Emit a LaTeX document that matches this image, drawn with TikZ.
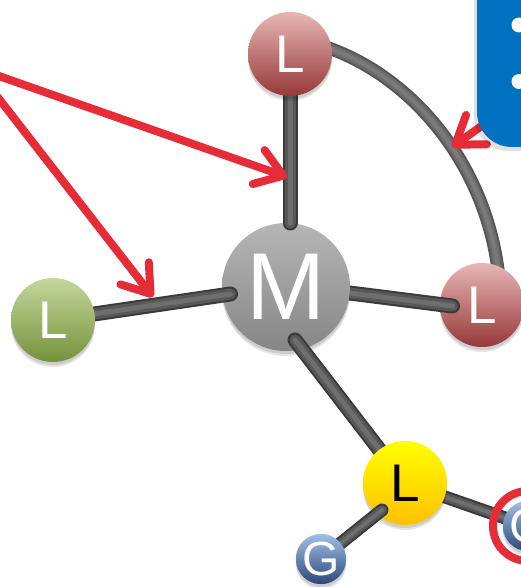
\documentclass[tikz,border=0pt]{standalone}
\usepackage{fontspec}
\setmainfont{Liberation Sans}
\usetikzlibrary{calc,arrows.meta}
\definecolor{redtop}{RGB}{232,182,182}
\definecolor{redbot}{RGB}{150,56,56}
\definecolor{greentop}{RGB}{196,215,156}
\definecolor{greenbot}{RGB}{118,146,60}
\definecolor{ytop}{RGB}{255,255,0}
\definecolor{ybot}{RGB}{255,192,0}
\definecolor{mtop}{RGB}{182,182,182}
\definecolor{mbot}{RGB}{134,134,134}
\definecolor{gtop}{RGB}{160,192,232}
\definecolor{gbot}{RGB}{44,72,120}
\definecolor{boxblue}{RGB}{0,112,192}
\definecolor{arrowred}{RGB}{230,44,54}
\definecolor{bonddark}{RGB}{58,58,58}
\definecolor{bondmid}{RGB}{88,88,88}
\definecolor{bondlight}{RGB}{110,110,110}
\definecolor{curvedark}{RGB}{85,85,85}
\definecolor{curvemid}{RGB}{108,108,108}
\definecolor{curvelight}{RGB}{122,122,122}
\tikzset{
  ball/.style={circle, inner sep=0pt, minimum size=84pt,
    font=\fontsize{53}{53}\selectfont, text=white,
    preaction={fill=black, fill opacity=0.10, transform canvas={yshift=-5pt}},
    preaction={fill=black, fill opacity=0.10, transform canvas={yshift=-3pt}}},
  redball/.style={ball, top color=redtop, bottom color=redbot},
  greenball/.style={ball, top color=greentop, bottom color=greenbot},
  yellowball/.style={ball, top color=ytop, bottom color=ybot, text=black},
  metalball/.style={ball, minimum size=128pt, top color=mtop, bottom color=mbot,
    font=\fontsize{95}{95}\selectfont},
  gball/.style={ball, minimum size=50pt, top color=gtop, bottom color=gbot,
    font=\fontsize{48}{48}\selectfont},
  bondwide/.style={draw=bonddark, line width=15pt, line cap=round,
    postaction={draw=bondmid, line width=11pt, line cap=round},
    postaction={draw=bondlight, line width=5pt, line cap=round}},
  bondthin/.style={draw=bonddark, line width=13pt, line cap=round,
    postaction={draw=bondmid, line width=9pt, line cap=round},
    postaction={draw=bondlight, line width=4pt, line cap=round}},
  curvebond/.style={draw=curvedark, line width=13pt, line cap=round,
    postaction={draw=curvemid, line width=9pt, line cap=round},
    postaction={draw=curvelight, line width=4pt, line cap=round}},
  redarrow/.style={draw=arrowred, line width=8pt, line cap=round,
    -{Straight Barb[length=26pt, width=36pt, round]}},
  ringstyle/.style={circle, draw=arrowred, line width=8pt, minimum size=70pt, inner sep=0pt}
}
\begin{document}
\begin{tikzpicture}[x=1pt,y=1pt]
\useasboundingbox (0,0) rectangle (520,587);
\fill[white] (0,0) rectangle (520,587);

% centres of the balls
\coordinate (cM) at (286,300);
\coordinate (cLt) at (290,533);
\coordinate (cLr) at (482,282);
\coordinate (cLl) at (53,267);
\coordinate (cLy) at (405,104);
\coordinate (cGb) at (321,28);
\coordinate (cGr) at (528,61);

% bond end points
\coordinate (b1) at ($(cM)+(4,64)$);
\coordinate (b2) at ($(cM)+(-55.5,-7)$);
\coordinate (b3) at ($(cLr)+(-29.5,-1)$);
\coordinate (b4) at ($(cM)+(9,-53)$);
\coordinate (b5) at ($(cLy)+(-23,-27)$);
\coordinate (m3) at ($(cM)+(0,2)$);
\coordinate (k1) at ($(cLt)+(10,14)$);
\coordinate (k2) at ($(cLr)+(18,15)$);

% links under the balls
\draw[curvebond] (k1) .. controls (400,527) and (492,427) .. (k2);
\draw[bondthin] (cLy) -- (cGr);

\node[redball] (Lright) at (cLr) {L};
\draw[bondwide] (m3) -- (b3);
\node[metalball] (M) at (cM) {M};
\draw[bondwide] (cLt) -- (b1);
\draw[bondwide] (cLl) -- (b2);
\draw[bondwide] (cLy) -- (b4);
\node[redball] (Ltop) at (cLt) {L};
\node[greenball] (Lleft) at (cLl) {L};
\node[yellowball] (Ly) at (cLy) {L};
\draw[bondthin] (cGb) -- (b5);
\node[gball] (Gb) at (cGb) {G};
\node[gball] (Gr) at (cGr) {G};
\node[ringstyle] (ring) at (Gr) {};

% red arrows
\coordinate (s1) at (-4,512);
\coordinate (t1) at (287,410);
\coordinate (s2) at (-4,492);
\coordinate (t2) at (153,290);
\coordinate (s3) at (514,484);
\coordinate (t3) at (452,440);
\draw[redarrow] (s1) -- (t1);
\draw[redarrow] (s2) -- (t2);
\draw[redarrow] (s3) -- (t3);

% blue box at the top right
\fill[black, fill opacity=0.12] (474,436) [rounded corners=35pt] rectangle (620,660);
\fill[boxblue, rounded corners=35pt] (477,440) rectangle (620,660);
\fill[white] (519,562) circle (7.5);
\fill[white] (519,505.5) circle (7.5);
\end{tikzpicture}
\end{document}
